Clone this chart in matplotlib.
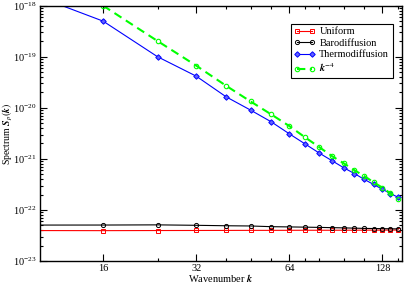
import matplotlib
matplotlib.use("Agg")
import matplotlib.pyplot as plt
from matplotlib.ticker import FixedLocator, LogLocator, NullFormatter, FixedFormatter, LogFormatterSciNotation
import numpy as np

plt.rcParams['font.family'] = ['Liberation Serif', 'DejaVu Serif']
plt.rcParams['mathtext.fontset'] = 'stix'
plt.rcParams['font.size'] = 7.5

# numeros de onda
k = [8, 16, 24, 32, 40, 48, 56, 64, 72, 80, 88, 96, 104, 112, 120, 128, 136, 144]

uniforme = [3.95e-23, 3.93e-23, 3.95e-23, 3.96e-23, 3.97e-23, 3.98e-23, 3.98e-23, 3.99e-23, 4.0e-23,
            4.0e-23, 4.0e-23, 4.01e-23, 4.01e-23, 4.02e-23, 4.02e-23, 4.02e-23, 4.03e-23, 4.03e-23]
barodifusion = [5.05e-23, 5.06e-23, 5.1e-23, 5.0e-23, 4.9e-23, 4.85e-23, 4.7e-23, 4.65e-23, 4.6e-23,
                4.55e-23, 4.5e-23, 4.45e-23, 4.4e-23, 4.35e-23, 4.32e-23, 4.3e-23, 4.27e-23, 4.25e-23]
termodifusion = [2.43e-18, 4.98e-19, 1.0e-19, 4.17e-20, 1.64e-20, 9.0e-21, 5.3e-21, 3.1e-21, 1.96e-21,
                 1.3e-21, 9.2e-22, 6.7e-22, 5.15e-22, 3.95e-22, 3.15e-22, 2.54e-22, 2.09e-22, 1.77e-22]

k_ley = [16, 24, 32, 40, 48, 56, 64, 72, 80, 88, 96, 104, 112, 120, 128, 136, 144]
ley_potencia = [1.0e-18, 2.03e-19, 6.7e-20, 2.7e-20, 1.33e-20, 7.4e-21, 4.4e-21, 2.64e-21, 1.7e-21,
                1.13e-21, 8.2e-22, 5.98e-22, 4.59e-22, 3.47e-22, 2.73e-22, 2.11e-22, 1.65e-22]

ticks_mayores = [16, 32, 64, 128]
ticks_menores = [24, 40, 48, 56, 72, 80, 96, 112, 144]
ticks_y = [1e-23, 1e-22, 1e-21, 1e-20, 1e-19, 1e-18]

fig = plt.figure(figsize=(4.07, 2.84), dpi=100)
ax = fig.add_axes([0.0983, 0.081, 0.889, 0.899])

ax.plot(k, uniforme, color='#ff0000', lw=0.8, marker='s', ms=3, mfc='none', mew=0.7, label='Uniform')
ax.plot(k, barodifusion, color='black', lw=0.8, marker='o', ms=3, mfc='none', mew=0.7, label='Barodiffusion')
ax.plot(k, termodifusion, color='#0000ff', lw=0.8, marker='D', ms=2.8, mfc='#6060ff', mew=0.7,
        label='Thermodiffusion')
ax.plot(k_ley, ley_potencia, color='#00ff00', lw=1.5, ls=(0, (4, 2.5)), marker='o', ms=3.2,
        mfc='none', mew=0.8, label=r'$\mathbfit{k}^{-4}$')

ax.set_xscale('log')
ax.set_yscale('log')
ax.set_xlim(10, 148)
ax.set_ylim(1e-23, 1e-18)

ax.xaxis.set_major_locator(FixedLocator(ticks_mayores))
ax.xaxis.set_major_formatter(FixedFormatter([str(t) for t in ticks_mayores]))
ax.xaxis.set_minor_locator(FixedLocator(ticks_menores))
ax.xaxis.set_minor_formatter(NullFormatter())
ax.yaxis.set_major_locator(FixedLocator(ticks_y))
ax.yaxis.set_major_formatter(LogFormatterSciNotation())
ax.yaxis.set_minor_locator(LogLocator(base=10, subs=np.arange(2, 10), numticks=10))
ax.yaxis.set_minor_formatter(NullFormatter())

ax.tick_params(which='both', direction='in', top=True, right=True, width=0.8)
ax.tick_params(which='major', length=5, pad=2.5)
ax.tick_params(which='minor', length=2.5)
for s in ax.spines.values():
    s.set_linewidth(1.0)

ax.set_xlabel(r'Wavenumber $\mathbfit{k}$', fontsize=7.5)
ax.xaxis.set_label_coords(0.5, -0.045)
ax.set_ylabel(r'Spectrum $\mathbfit{S}_{\mathit{p}}(\mathbfit{k})$', fontsize=7)
ax.yaxis.set_label_coords(-0.07, 0.5)

leg = ax.legend(loc='upper right', bbox_to_anchor=(0.975, 0.93), numpoints=2, handlelength=2.0,
                fancybox=False, framealpha=1, edgecolor='black', borderpad=0.35, labelspacing=0.2,
                handletextpad=0.4, borderaxespad=0)
leg.get_frame().set_linewidth(0.8)

fig.savefig('out.png', dpi=100)
